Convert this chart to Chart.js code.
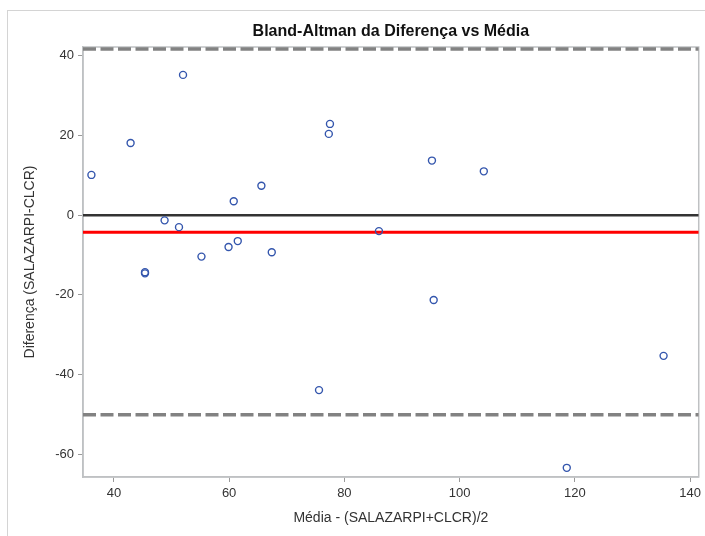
<!DOCTYPE html>
<html lang="pt">
<head>
	<meta charset="UTF-8">
	<script src="https://cdn.jsdelivr.net/npm/chart.js"></script>
	<title>Bland-Altman</title>
	<style>
		body { margin: 0; background: #fff; }
		#moldura { position: absolute; left: 7px; top: 10px; width: 720px; height: 540px; border: 1px solid #d4d4d4; }
		#zona { position: absolute; left: 0; top: 0; width: 705px; height: 536px; }
	</style>
</head>
<body>
	<div id="moldura"></div>
	<div id="zona"><canvas id="grafico" width="705" height="536"></canvas></div>
	<script>
		// Médias (eixo x) e diferenças (eixo y)
		const media = [36.1, 42.9, 52.0, 45.4, 45.4, 48.8, 51.3, 55.2, 59.9, 61.5, 60.8,
			65.6, 67.4, 77.5, 77.3, 75.6, 86.0, 95.2, 95.5, 104.2, 118.6, 135.4];
		const diferenca = [10.1, 18.1, 35.2, -14.3, -14.6, -1.3, -3.0, -10.4, -8.0, -6.5, 3.5,
			7.4, -9.3, 22.9, 20.4, -43.9, -4.0, 13.7, -21.3, 11.0, -63.4, -35.3];
		const diferencaMedia = -4.3;
		const limiteSuperior = 41.7;
		const limiteInferior = -50.1;
		const zero = 0;
		const xMin = 34.64, xMax = 141.5;
		const yMin = -65.7, yMax = 42.2;
		const xTicks = [40, 60, 80, 100, 120, 140];
		const yTicks = [-60, -40, -20, 0, 20, 40];

		const pontos = media.map((m, i) => ({ x: m, y: diferenca[i] }));
		const linha = v => [{ x: xMin, y: v }, { x: xMax, y: v }];

		const titulo = {
			id: 'titulo',
			beforeDatasetsDraw(chart) {
				const { ctx, chartArea: a } = chart;
				ctx.save();
				ctx.strokeStyle = '#bfc1c3';
				ctx.lineWidth = 1.5;
				ctx.strokeRect(a.left, a.top, a.right - a.left, a.bottom - a.top);
				ctx.restore();
			},
			afterDraw(chart) {
				const { ctx, chartArea: a } = chart;
				ctx.save();
				ctx.font = 'bold 16px "Liberation Sans", Arial, sans-serif';
				ctx.fillStyle = '#111';
				ctx.textAlign = 'center';
				ctx.textBaseline = 'middle';
				ctx.fillText('Bland-Altman da Diferença vs Média', (a.left + a.right) / 2, 32);
				ctx.restore();
			}
		};

		const fonte = '"Liberation Sans", Arial, sans-serif';
		new Chart(document.getElementById('grafico'), {
			type: 'scatter',
			data: {
				datasets: [
					{ data: pontos, order: 0, pointRadius: 3.5, pointHoverRadius: 3.5, borderWidth: 1.4,
						borderColor: '#3456ad', backgroundColor: 'rgba(255,255,255,0)' },
					{ type: 'line', data: linha(zero), order: 2, borderColor: '#333333', borderWidth: 2.5, pointRadius: 0 },
					{ type: 'line', data: linha(diferencaMedia), order: 1, borderColor: '#ff0000', borderWidth: 3, pointRadius: 0 },
					{ type: 'line', data: linha(limiteSuperior), order: 1, borderColor: '#828282', borderWidth: 3.5, borderDash: [13, 4.5], pointRadius: 0 },
					{ type: 'line', data: linha(limiteInferior), order: 1, borderColor: '#828282', borderWidth: 3.5, borderDash: [13, 4.5], pointRadius: 0 }
				]
			},
			options: {
				responsive: false,
				animation: false,
				layout: { padding: { top: 47, right: 3.5, left: 0, bottom: 0 } },
				plugins: { legend: { display: false }, tooltip: { enabled: false } },
				scales: {
					x: {
						type: 'linear', min: xMin, max: xMax,
						afterFit(s) { s.height = 59; },
						afterBuildTicks(s) { s.ticks = xTicks.map(v => ({ value: v })); },
						grid: { drawOnChartArea: false, drawTicks: true, tickLength: 5, color: '#9a9a9a' },
						border: { display: true, color: '#bfc1c3', width: 1.5 },
						ticks: { color: '#333', font: { family: fonte, size: 13 }, padding: 4 },
						title: { display: true, text: 'Média - (SALAZARPI+CLCR)/2', color: '#333',
							font: { family: fonte, size: 14 }, padding: { top: 4, bottom: 9 } }
					},
					y: {
						type: 'linear', min: yMin, max: yMax,
						afterFit(s) { s.width = 83; },
						afterBuildTicks(s) { s.ticks = yTicks.map(v => ({ value: v })); },
						grid: { drawOnChartArea: false, drawTicks: true, tickLength: 5, color: '#9a9a9a' },
						border: { display: true, color: '#bfc1c3', width: 1.5 },
						ticks: { color: '#333', font: { family: fonte, size: 13 }, padding: 4 },
						title: { display: true, text: 'Diferença (SALAZARPI-CLCR)', color: '#333',
							font: { family: fonte, size: 14 }, padding: { top: 22, bottom: 4 } }
					}
				}
			},
			plugins: [titulo]
		});
	</script>
</body>
</html>
